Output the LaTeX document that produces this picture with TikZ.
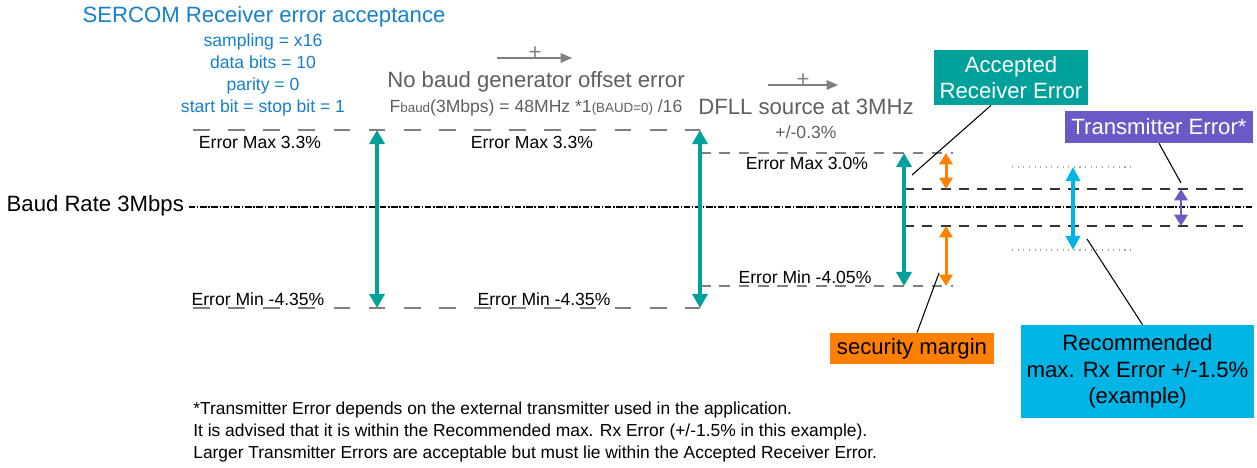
\documentclass[tikz,border=0pt]{standalone}
\usepackage{fontspec}
\setmainfont{Liberation Sans}
\usepackage{xcolor}
\usepackage{tikz}
\usetikzlibrary{arrows.meta,positioning,calc}
\definecolor{accteal}{HTML}{00A19A}
\definecolor{secorange}{HTML}{FF8000}
\definecolor{txpurple}{HTML}{6A5AC6}
\definecolor{reccyan}{HTML}{00B4E6}
\definecolor{titleblue}{HTML}{1580CC}
\definecolor{headgray}{HTML}{5F5F5F}
\newcommand{\bigtxt}{\fontsize{12.6}{15}\selectfont}
\newcommand{\smalltxt}{\fontsize{10}{12.5}\selectfont}

\begin{document}
\begin{tikzpicture}[x=0.02cm, y=-0.02cm,
  lbl/.style={font=\smalltxt, inner sep=1pt},
  wideline/.style={gray, line width=0.7pt, dash pattern=on 9.5pt off 10.5pt},
  graylevel/.style={gray, line width=0.7pt, dash pattern=on 6pt off 5pt},
  blacklevel/.style={black!80, line width=0.6pt, dash pattern=on 5.8pt off 4.6pt},
  rxlevel/.style={gray!70, line width=0.6pt, dash pattern=on 0.6pt off 2.6pt},
  baudline/.style={black, line width=0.6pt, dash pattern=on 3.6pt off 1pt on 0.8pt off 1pt},
  tealarrow/.style={accteal, line width=2pt, {Triangle[width=8.5pt,length=8pt]}-{Triangle[width=8.5pt,length=8pt]}},
  orangearrow/.style={secorange, line width=1.7pt, {Triangle[width=7.5pt,length=6.5pt]}-{Triangle[width=7.5pt,length=6.5pt]}},
  cyanarrow/.style={reccyan, line width=2pt, {Triangle[width=8pt,length=8pt]}-{Triangle[width=8pt,length=8pt]}},
  purplearrow/.style={txpurple, line width=1.6pt, {Triangle[width=7.5pt,length=6.5pt]}-{Triangle[width=7.5pt,length=6.5pt]}},
  grayarrow/.style={gray, line width=0.8pt, -{Triangle[width=5.5pt,length=6.5pt]}},
  leader/.style={black, line width=0.6pt},
  infobox/.style={font=\bigtxt, align=center, inner sep=0pt}
]
\useasboundingbox (0,0) rectangle (1257,467);

% Title and settings
\node[titleblue, font=\bigtxt] (title) at (264,17) {SERCOM Receiver error acceptance};
\node[titleblue, font=\smalltxt, align=center] (params) at (263,75)
  {sampling = x16\\ data bits = 10\\ parity = 0\\ start bit = stop bit = 1};

% Error contributions
\coordinate (plusA) at (497,58);
\coordinate (plusB) at (572,58);
\draw[grayarrow] (plusA) -- (plusB);
\node[gray, font=\bigtxt, inner sep=0pt] (plusAB) at (535,53) {+};
\node[headgray, font=\bigtxt] (nobaud) at (536,82) {No baud generator offset error};
\node[headgray, font=\smalltxt] (fbaud) at (536,108)
  {F{\fontsize{7.6}{9}\selectfont baud}(3Mbps) = 48MHz *1{\fontsize{7.6}{9}\selectfont(BAUD=0)} /16};

\coordinate (plusC) at (768,85);
\coordinate (plusD) at (838,85);
\draw[grayarrow] (plusC) -- (plusD);
\node[gray, font=\bigtxt, inner sep=0pt] (plusCD) at (803,80) {+};
\node[headgray, font=\bigtxt] (dfll) at (806,107) {DFLL source at 3MHz};
\node[headgray, font=\smalltxt] (dfllerr) at (806,132) {+/-0.3\%};

% Baud rate reference
\node[font=\bigtxt, anchor=east, inner sep=1pt] (baud) at (186,206) {Baud Rate 3Mbps};
\coordinate (baudend) at (1252,207);
\draw[baudline] (baud.east) ++(3,1) -- (baudend);

% Error levels
\coordinate (max1) at (377,130);
\coordinate (min1) at (377,308);
\coordinate (max2) at (700,130);
\coordinate (min2) at (700,308);
\coordinate (max3) at (904,153);
\coordinate (min3) at (904,286);
\draw[wideline] (193,130) -- (max2);
\draw[wideline] (193,308) -- (min2);
\draw[graylevel] (max2 |- max3) -- (953,153);
\draw[graylevel] (min2 |- min3) -- (953,286);
\draw[blacklevel] (904,189) -- (1245,189);
\draw[blacklevel] (904,226) -- (1245,226);
\draw[rxlevel] (1012,167) -- (1132,167);
\draw[rxlevel] (1012,250) -- (1132,250);

\node[lbl] (emax1) at (260,142) {Error Max 3.3\%};
\node[lbl] (emin1) at (258,299) {Error Min -4.35\%};
\node[lbl] (emax2) at (532,142) {Error Max 3.3\%};
\node[lbl] (emin2) at (544,299) {Error Min -4.35\%};
\node[lbl] (emax3) at (807,163) {Error Max 3.0\%};
\node[lbl] (emin3) at (805,277) {Error Min -4.05\%};

% Arrows
\draw[tealarrow] (max1) -- (min1);
\draw[tealarrow] (max2) -- (min2);
\draw[tealarrow] (max3) -- (min3);
\draw[orangearrow] (946,153) -- (946,189);
\draw[orangearrow] (946,226) -- (946,286);
\draw[cyanarrow] (1073,167) -- (1073,250);
\draw[purplearrow] (1181,189) -- (1181,226);

% Labels
\node[infobox, fill=accteal, text=white, minimum width=3.08cm, minimum height=1.1cm] (accbox) at (1011,77.5)
  {Accepted\\ Receiver Error};
\node[infobox, fill=txpurple, text=white, minimum width=3.76cm, minimum height=0.64cm] (txbox) at (1159,127)
  {Transmitter Error*};
\node[infobox, fill=secorange, minimum width=3.28cm, minimum height=0.62cm] (secbox) at (912,348.5)
  {security margin};
\node[infobox, fill=reccyan, minimum width=4.66cm, minimum height=1.86cm] (recbox) at (1137.5,371.5)
  {Recommended\\ max. Rx Error +/-1.5\%\\ (example)};

\coordinate (accpt) at (912,175);
\coordinate (txpt) at (1181,183);
\coordinate (secpt) at (939,273);
\coordinate (recpt) at (1087,239);
\draw[leader] ([xshift=-0.4cm]accbox.south) -- (accpt);
\draw[leader] (txbox.south) -- (txpt);
\draw[leader] ([xshift=0.1cm]secbox.north) -- (secpt);
\draw[leader] ([xshift=0.1cm]recbox.north) -- (recpt);

% Footnote
\node[anchor=west, align=left, font=\fontsize{9.9}{12.5}\selectfont, inner sep=0pt] (note) at (193,432)
  {*Transmitter Error depends on the external transmitter used in the application.\\
   It is advised that it is within the Recommended max. Rx Error (+/-1.5\% in this example).\\
   Larger Transmitter Errors are acceptable but must lie within the Accepted Receiver Error.};
\end{tikzpicture}
\end{document}
